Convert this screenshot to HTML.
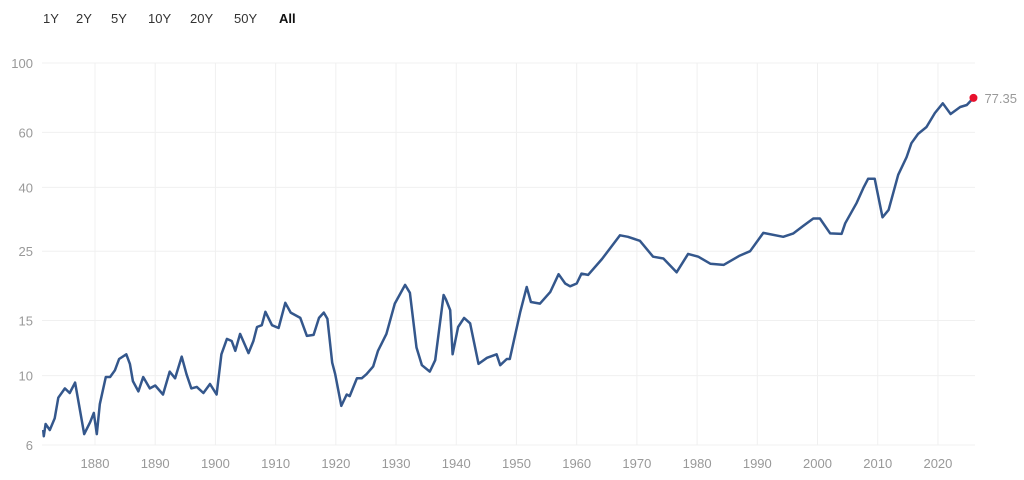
<!DOCTYPE html>
<html><head><meta charset="utf-8"><style>
body{margin:0;width:1024px;height:480px;background:#fff;font-family:"Liberation Sans",sans-serif;overflow:hidden}
.btn{position:absolute;top:11px;font-size:13px;color:#333;cursor:pointer}
</style></head><body>
<div class="btn" style="left:43px">1Y</div>
<div class="btn" style="left:76px">2Y</div>
<div class="btn" style="left:111px">5Y</div>
<div class="btn" style="left:148px">10Y</div>
<div class="btn" style="left:190px">20Y</div>
<div class="btn" style="left:234px">50Y</div>
<div class="btn" style="left:279px;font-weight:bold;color:#111">All</div>
<svg id="chart" width="1024" height="480" style="position:absolute;left:0;top:0"></svg>
<script>
const years=[1871.4,1871.5,1871.8,1872.5,1873.3,1873.9,1875,1875.8,1876.7,1878.2,1879.2,1879.8,1880.3,1880.8,1881.8,1882.5,1883.3,1884,1885.2,1885.8,1886.3,1887.2,1888,1889.1,1890,1891.3,1892.4,1893.3,1894.4,1895.2,1896,1896.9,1898,1899.1,1900.2,1901,1901.9,1902.7,1903.3,1904.1,1905.5,1906.3,1906.9,1907.7,1908.3,1909.4,1910.5,1911.6,1912.5,1914.1,1915.2,1916.3,1917.2,1918,1918.6,1919.4,1919.9,1920.9,1921.8,1922.3,1923.5,1924.3,1925.1,1926.2,1927,1928.4,1929.8,1931.5,1932.3,1933.4,1934.3,1935.6,1936.5,1937.9,1938.3,1939,1939.4,1940.3,1941.3,1942.3,1943.7,1945.1,1946.7,1947.3,1948.4,1948.9,1950.6,1951.7,1952.4,1953.9,1955.6,1957,1958.1,1958.9,1960,1960.8,1961.9,1964.2,1967.2,1968.5,1970.5,1972.7,1974.4,1976.6,1978.5,1980.2,1982.2,1984.4,1987.1,1988.8,1991,1994.3,1996,1997.6,1999.3,2000.4,2002.1,2004,2004.6,2006.5,2007.6,2008.4,2009.5,2010.8,2011.8,2013.4,2014.8,2015.6,2016.7,2018.1,2019.5,2020.8,2022.1,2023.7,2024.8,2025.9];
const values=[6.7,6.4,7.0,6.7,7.3,8.5,9.1,8.8,9.5,6.5,7.1,7.6,6.5,8.1,9.9,9.9,10.4,11.3,11.7,10.9,9.6,8.9,9.9,9.1,9.3,8.7,10.3,9.8,11.5,10.1,9.1,9.2,8.8,9.4,8.7,11.7,13.1,12.9,12.0,13.6,11.8,12.9,14.3,14.5,16.0,14.5,14.2,17.1,15.9,15.3,13.4,13.5,15.3,15.9,15.2,11.0,10.1,8.0,8.7,8.6,9.8,9.8,10.1,10.7,12.0,13.6,17.0,19.5,18.4,12.3,10.8,10.3,11.2,18.1,17.5,16.2,11.7,14.3,15.3,14.7,10.9,11.4,11.7,10.8,11.3,11.3,15.9,19.2,17.2,17.0,18.5,21.1,19.7,19.3,19.7,21.2,21.0,23.6,28.1,27.8,27,24,23.7,21.4,24.5,24,22.8,22.6,24.2,25,28.6,27.8,28.5,30.1,31.8,31.8,28.5,28.4,30.7,35.7,39.8,42.6,42.6,32.1,33.9,43.9,50.0,55.4,59.3,62.4,69.2,74.3,68.7,72.3,73.4,77.35];
const yTicks=[100,60,40,25,15,10,6];
const xTicks=[1880,1890,1900,1910,1920,1930,1940,1950,1960,1970,1980,1990,2000,2010,2020];
const NS='http://www.w3.org/2000/svg';
const svg=document.getElementById('chart');
const X=yr=>95+(yr-1880)*6.021;
const Y=v=>63+(2-Math.log10(v))*312.6;
function mk(t,a){const e=document.createElementNS(NS,t);for(const k in a)e.setAttribute(k,a[k]);svg.appendChild(e);return e;}
xTicks.forEach(t=>{
  const l=mk('line',{x1:X(t),x2:X(t),y1:63,y2:445,stroke:'#f0f0f0','stroke-width':1});
  
  
  const tx=mk('text',{x:X(t),y:468,'text-anchor':'middle','font-size':13,fill:'#999'});
  tx.textContent=t;
  
  
});
yTicks.forEach(t=>{
  const l=mk('line',{x1:42,x2:975,y1:Y(t),y2:Y(t),stroke:'#f0f0f0','stroke-width':1});
  
  
  const tx=mk('text',{x:33,y:Y(t)+5,'text-anchor':'end','font-size':13,fill:'#999'});
  tx.textContent=t;
  
  
});
const d=years.map((yr,i)=>(i?'L':'M')+X(yr).toFixed(1)+','+Y(values[i]).toFixed(1)).join('');
const p=mk('path',{d:d,fill:'none',stroke:'#34578c','stroke-width':2.5,'stroke-linejoin':'round'});


const n=years.length-1;
const c=mk('circle',{cx:X(years[n]),cy:Y(values[n]),r:4,fill:'#e8112d'});


const lt=mk('text',{x:X(years[n])+11,y:Y(values[n])+5,'font-size':13,fill:'#999'});
lt.textContent=values[n].toFixed(2);


</script>
</body></html>
